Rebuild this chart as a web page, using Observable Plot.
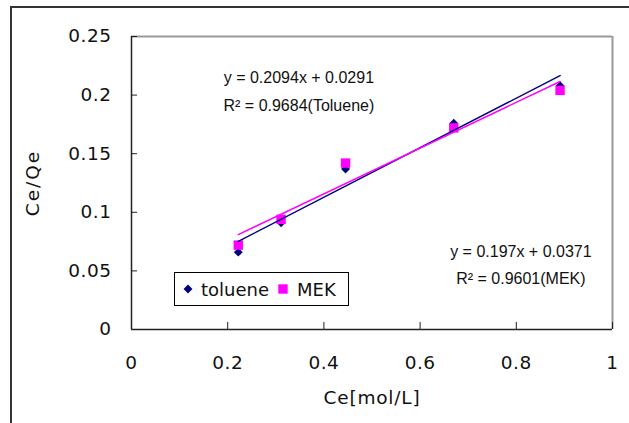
<!DOCTYPE html>
<html><head><meta charset="utf-8">
<script src="https://cdn.jsdelivr.net/npm/d3@7"></script>
<script src="https://cdn.jsdelivr.net/npm/@observablehq/plot@0.6"></script>
<style>
body{margin:0;background:#fff;overflow:hidden}
#wrap{position:relative;width:629px;height:423px;overflow:hidden;background:#fff}
#chart{position:absolute;left:0;top:0}
#outer{position:absolute;left:10px;top:6px;width:700px;height:500px;border:2px solid #333;box-sizing:border-box}
#legend{position:absolute;left:174px;top:272px}
g[aria-label="y-axis label"] text{letter-spacing:2px}
g[aria-label="x-axis label"] text{letter-spacing:0.8px}
g[aria-label="x-axis tick label"] text, g[aria-label="y-axis tick label"] text{letter-spacing:0.5px}
</style></head>
<body><div id="wrap"><div id="chart"></div><div id="outer"></div><div id="legend"></div></div>
<script>
// ---- data ----
const ce = [0.222, 0.311, 0.445, 0.670, 0.891];           // Ce [mol/L]
const toluene = [0.066, 0.091, 0.137, 0.176, 0.208];      // Ce/Qe toluene
const mek = [0.072, 0.094, 0.142, 0.172, 0.204];          // Ce/Qe MEK
const seriesNames = ["toluene", "MEK"];
const seriesColors = ["#000080", "#ff00ff"];
const xTicks = [0, 0.2, 0.4, 0.6, 0.8, 1];
const yTicks = [0, 0.05, 0.1, 0.15, 0.2, 0.25];
const tolEquation = "y = 0.2094x + 0.0291\nR² = 0.9684(Toluene)";
const mekEquation = "y = 0.197x + 0.0371\nR² = 0.9601(MEK)";

const tolRows = ce.map((x, i) => ({x, y: toluene[i]}));
const mekRows = ce.map((x, i) => ({x, y: mek[i]}));

const chart = Plot.plot({
  width: 629, height: 423,
  marginLeft: 131, marginRight: 17, marginTop: 36, marginBottom: 94,
  x: {domain: [0, 1]},
  y: {domain: [0, 0.25]},
  style: {fontFamily: "DejaVu Sans", fontSize: "18.5px", color: "#111", background: "transparent", overflow: "visible"},
  marks: [
    Plot.ruleY([0.25], {stroke: "#999", strokeWidth: 2}),
    Plot.ruleX([1], {stroke: "#999", strokeWidth: 2}),
    Plot.ruleX([0], {stroke: "#222", strokeWidth: 1.5}),
    Plot.ruleY([0], {stroke: "#222", strokeWidth: 1.5}),
    Plot.axisX({ticks: xTicks, tickFormat: d => String(d), tickSize: -7, tickPadding: 33,
      stroke: "#222", label: "Ce[mol/L]", labelAnchor: "center", labelArrow: "none", labelOffset: 74,
      fontSize: 18.5}),
    Plot.axisY({ticks: yTicks, tickFormat: d => String(d), tickSize: -6, tickPadding: 26,
      stroke: "#222", label: "Ce/Qe", labelAnchor: "center", labelArrow: "none", labelOffset: 106,
      fontSize: 18.5}),
    Plot.dot(tolRows, {x: "x", y: "y", symbol: "diamond2", fill: seriesColors[0], r: 4}),
    Plot.dot(mekRows, {x: "x", y: "y", symbol: "square", fill: seriesColors[1], r: 5.3}),
    Plot.linearRegressionY(tolRows, {x: "x", y: "y", stroke: seriesColors[0], strokeWidth: 1.5, ci: 0}),
    Plot.linearRegressionY(mekRows, {x: "x", y: "y", stroke: seriesColors[1], strokeWidth: 1.5, ci: 0}),
    Plot.text([tolEquation], {x: 0.348, y: 0.206, text: d => d, fontFamily: "Liberation Sans", fontSize: 16, lineHeight: 1.75}),
    Plot.text([mekEquation], {x: 0.8095, y: 0.0574, text: d => d, fontFamily: "Liberation Sans", fontSize: 16, lineHeight: 1.69})
  ]
});
document.getElementById("chart").appendChild(chart);

// legend box
const lg = d3.select("#legend").append("svg").attr("width", 176).attr("height", 35)
  .style("font-family", "DejaVu Sans").style("font-size", "18px");
lg.append("rect").attr("x", 0.5).attr("y", 0.5).attr("width", 174).attr("height", 33)
  .attr("fill", "#fff").attr("stroke", "#000");
const syms = [d3.symbolDiamond2, d3.symbolSquare];
const symSize = [Math.PI * 16, Math.PI * 5.3 * 5.3];
const symX = [14, 109];
const txtX = [27, 123];
seriesNames.forEach((name, i) => {
  lg.append("path").attr("d", d3.symbol(syms[i], symSize[i])())
    .attr("transform", `translate(${symX[i]},17)`).attr("fill", seriesColors[i]);
  lg.append("text").attr("x", txtX[i]).attr("y", 24).attr("fill", "#111").text(name);
});
</script></body></html>
